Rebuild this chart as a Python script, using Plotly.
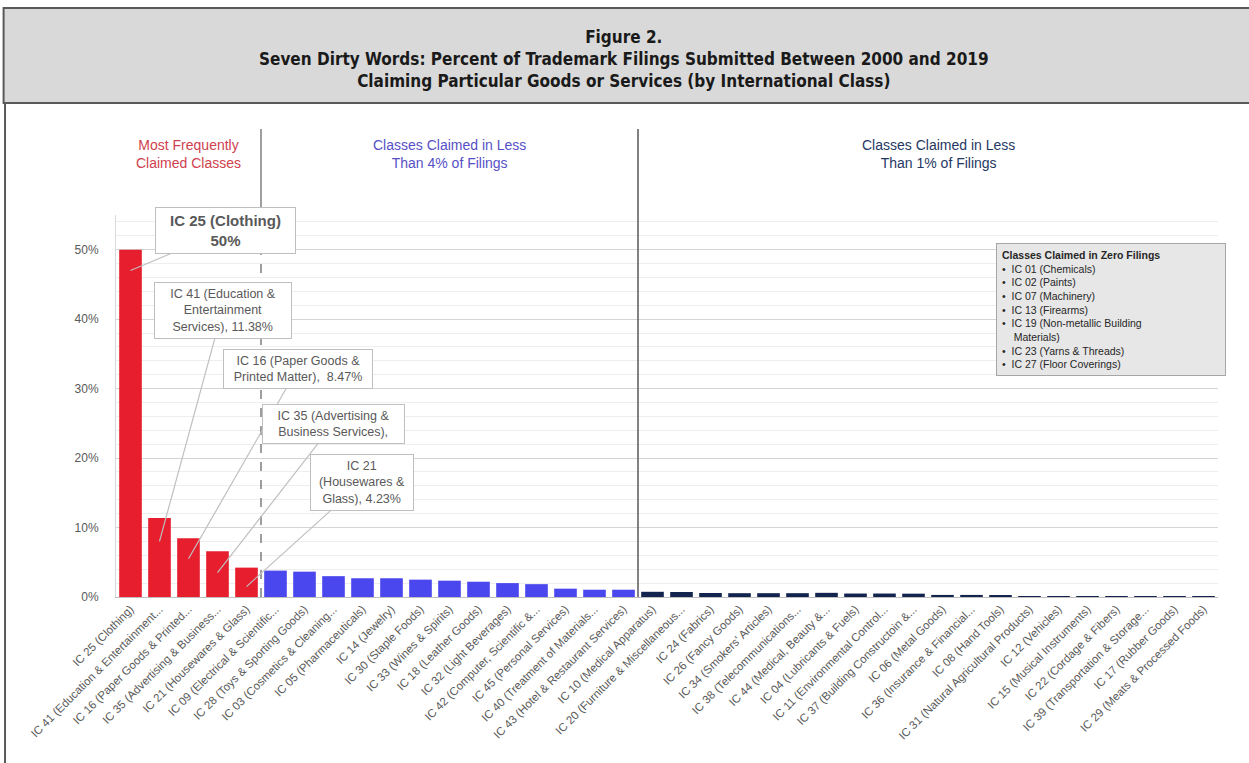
import plotly.graph_objects as go

categories = [
    "IC 25 (Clothing)", "IC 41 (Education & Entertainment...", "IC 16 (Paper Goods & Printed...",
    "IC 35 (Advertising & Business...", "IC 21 (Housewares & Glass)",
    "IC 09 (Electrical & Scientific...", "IC 28 (Toys & Sporting Goods)", "IC 03 (Cosmetics & Cleaning...",
    "IC 05 (Pharmaceuticals)", "IC 14 (Jewelry)", "IC 30 (Staple Foods)", "IC 33 (Wines & Spirits)",
    "IC 18 (Leather Goods)", "IC 32 (Light Beverages)", "IC 42 (Computer, Scientific &...",
    "IC 45 (Personal Services)", "IC 40 (Treatment of Materials...", "IC 43 (Hotel & Restaurant Services)",
    "IC 10 (Medical Apparatus)", "IC 20 (Furniture & Miscellaneous...", "IC 24 (Fabrics)",
    "IC 26 (Fancy Goods)", "IC 34 (Smokers' Articles)", "IC 38 (Telecommunications...",
    "IC 44 (Medical, Beauty &...", "IC 04 (Lubricants & Fuels)", "IC 11 (Environmental Control...",
    "IC 37 (Building Constructoin &...", "IC 06 (Metal Goods)", "IC 36 (Insurance & Financial...",
    "IC 08 (Hand Tools)", "IC 31 (Natural Agricultural Products)", "IC 12 (Vehicles)",
    "IC 15 (Musical Instruments)", "IC 22 (Cordage & Fibers)", "IC 39 (Transportation & Storage...",
    "IC 17 (Rubber Goods)", "IC 29 (Meats & Processed Foods)",
]
values = [
    50.0, 11.38, 8.47, 6.6, 4.23,
    3.8, 3.65, 3.0, 2.7, 2.7, 2.5, 2.35, 2.2, 2.0, 1.85, 1.2, 1.05, 1.05,
    0.75, 0.72, 0.58, 0.55, 0.55, 0.55, 0.6, 0.5, 0.5, 0.48, 0.3, 0.3,
    0.15, 0.13, 0.12, 0.12, 0.1, 0.1, 0.1, 0.08,
]
group_sizes = [5, 13, 20]
group_colors = ["#E61E2D", "#4B47EE", "#13244F"]
section_titles = ["Most Frequently<br>Claimed Classes",
                  "Classes Claimed in Less<br>Than 4% of Filings",
                  "Classes Claimed in Less<br>Than 1% of Filings"]
section_colors = ["#D0414F", "#5650C6", "#1F3864"]
zero_classes = ["IC 01 (Chemicals)", "IC 02 (Paints)", "IC 07 (Machinery)", "IC 13 (Firearms)",
                "IC 19 (Non-metallic Building<br>&nbsp;&nbsp;&nbsp;&nbsp;Materials)",
                "IC 23 (Yarns & Threads)", "IC 27 (Floor Coverings)"]
# (bar index, arrow tip value, text, offset x, offset y, font size, box width)
callouts = [
    (0, 47.0, "<b>IC 25 (Clothing)<br>50%</b>", 95, -40, 15, 131),
    (1, 8.0, "IC 41 (Education &<br>Entertainment<br>Services), 11.38%", 63, -231, 12.5, 128),
    (2, 5.5, "IC 16 (Paper Goods &<br>Printed Matter),  8.47%", 109, -190, 12.5, 140),
    (3, 3.5, "IC 35 (Advertising &<br>Business Services),", 116, -149, 12.5, 133),
    (4, 1.5, "IC 21<br>(Housewares &<br>Glass), 4.23%", 115, -104, 12.5, 94),
]

colors = []
for size, c in zip(group_sizes, group_colors):
    colors += [c] * size

FONT = "Liberation Sans, Arial, sans-serif"
GRAY = "#595959"

fig = go.Figure(go.Bar(x=categories, y=values, marker=dict(color=colors, line=dict(width=0)),
                       hoverinfo="x+y"))

fig.update_layout(
    width=1249, height=763,
    margin=dict(l=116, r=31, t=215, b=166),
    paper_bgcolor="white", plot_bgcolor="white",
    bargap=0.22, showlegend=False,
    font=dict(family=FONT, color=GRAY, size=12),
)
fig.update_xaxes(type="category", tickangle=-45, tickfont=dict(size=11.5, color=GRAY),
                 showgrid=False, showline=True, linecolor="#BFBFBF", ticks="",
                 range=[-0.5, len(categories) - 0.5])
fig.update_yaxes(range=[0, 55], dtick=10, ticksuffix="%", tickfont=dict(size=12, color=GRAY),
                 showgrid=True, gridcolor="#D4D4D4", gridwidth=1,
                 minor=dict(dtick=2, showgrid=True, gridcolor="#EEEEEE"),
                 showline=True, linecolor="#D9D9D9", zeroline=False, ticks="", ticklabelstandoff=14)

shapes = []
# header box
shapes.append(dict(type="rect", xref="paper", yref="paper", x0=-0.102, x1=1.03, y0=1.293, y1=1.542,
                   fillcolor="#D9D9D9", line=dict(color="#595959", width=2), layer="below"))
# left border
shapes.append(dict(type="line", xref="paper", yref="paper", x0=-0.1007, x1=-0.1007, y0=-0.44, y1=1.293,
                   line=dict(color="#595959", width=2)))
# dividers
b1 = group_sizes[0] - 0.5
b2 = group_sizes[0] + group_sizes[1] - 0.5
shapes.append(dict(type="line", xref="x", yref="paper", x0=b1, x1=b1, y0=1.0, y1=1.225,
                   line=dict(color="#7F7F7F", width=1.5)))
shapes.append(dict(type="line", xref="x", yref="paper", x0=b1, x1=b1, y0=0, y1=1.0,
                   line=dict(color="#7F7F7F", width=1.5, dash="dash")))
shapes.append(dict(type="line", xref="x", yref="paper", x0=b2, x1=b2, y0=0, y1=1.225,
                   line=dict(color="#595959", width=1.5)))
fig.update_layout(shapes=shapes)

ann = []
ann.append(dict(xref="paper", yref="paper", x=0.461, y=1.408, showarrow=False,
                text="<b>Figure 2.<br>Seven Dirty Words: Percent of Trademark Filings Submitted Between 2000 and 2019"
                     "<br>Claiming Particular Goods or Services (by International Class)</b>",
                font=dict(family="Liberation Sans Narrow, DejaVu Sans Condensed, Arial Narrow, sans-serif",
                          size=17, color="#1A1A1A"),
                align="center", xanchor="center", yanchor="middle"))
sec_x = [(group_sizes[0] - 1) / 2,
         group_sizes[0] + (group_sizes[1] - 1) / 2,
         group_sizes[0] + group_sizes[1] + (group_sizes[2] - 1) / 2 + 0.35]
for sx, t, c in zip(sec_x, section_titles, section_colors):
    ann.append(dict(xref="x", yref="paper", x=sx, y=1.16, text=t, showarrow=False,
                    font=dict(size=14, color=c), align="center", xanchor="center", yanchor="middle"))
for idx, yv, t, ax, ay, fs, w in callouts:
    ann.append(dict(xref="x", yref="y", x=categories[idx], y=yv, text=t, showarrow=True,
                    arrowhead=0, arrowwidth=1.2, arrowcolor="#BFBFBF", ax=ax, ay=ay,
                    bgcolor="white", bordercolor="#BFBFBF", borderwidth=1, borderpad=4,
                    width=w, font=dict(size=fs, color=GRAY), align="center"))
zero_text = "<b>Classes Claimed in Zero Filings</b><br>" + "<br>".join(
    "•&nbsp;&nbsp;" + z for z in zero_classes)
ann.append(dict(xref="paper", yref="paper", x=0.903, y=0.753, text=zero_text, showarrow=False,
                bgcolor="#E7E7E7", bordercolor="#A6A6A6", borderwidth=1, borderpad=5,
                width=218, align="left", xanchor="center", yanchor="middle",
                font=dict(size=10.5, color="#262626")))
fig.update_layout(annotations=ann)

fig.write_html("out.html", config={"displayModeBar": False},
               post_script="document.body.style.margin='0';")
